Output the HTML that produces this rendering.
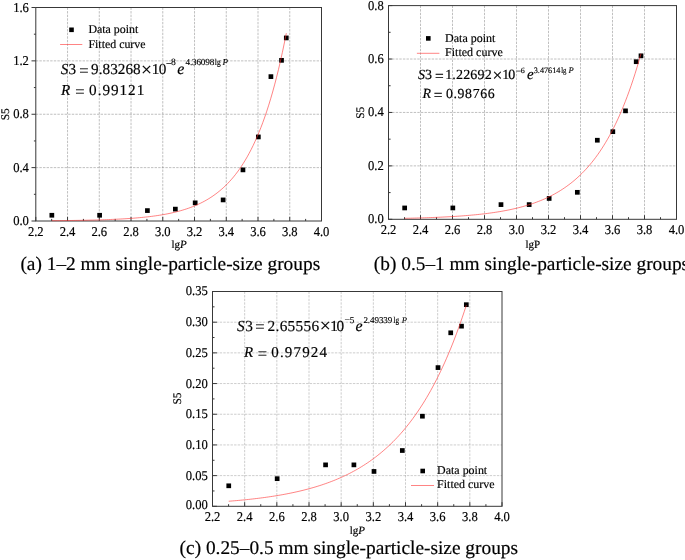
<!DOCTYPE html>
<html><head><meta charset="utf-8"><title>Figure</title>
<style>html,body{margin:0;padding:0;background:#fff;overflow:hidden}svg{display:block;will-change:transform;transform:translateZ(0)}text{text-rendering:geometricPrecision;stroke:#000;stroke-width:0.18px}</style></head>
<body><svg width="685" height="560" viewBox="0 0 685 560" font-family='"Liberation Serif", "Times New Roman", serif' fill="#000"><path d="M67.54 7.50V221.00M99.29 7.50V221.00M131.03 7.50V221.00M162.78 7.50V221.00M194.52 7.50V221.00M226.27 7.50V221.00M258.01 7.50V221.00M289.76 7.50V221.00M35.80 167.62H321.50M35.80 114.25H321.50M35.80 60.87H321.50" stroke="#606060" stroke-width="0.4" stroke-dasharray="2.4,1.2" fill="none"/>
<rect x="35.80" y="7.50" width="285.70" height="213.50" fill="none" stroke="#383838" stroke-width="1"/>
<path d="M35.80 221.00v-4.1M51.67 221.00v-2.1M67.54 221.00v-4.1M83.42 221.00v-2.1M99.29 221.00v-4.1M115.16 221.00v-2.1M131.03 221.00v-4.1M146.91 221.00v-2.1M162.78 221.00v-4.1M178.65 221.00v-2.1M194.52 221.00v-4.1M210.39 221.00v-2.1M226.27 221.00v-4.1M242.14 221.00v-2.1M258.01 221.00v-4.1M273.88 221.00v-2.1M289.76 221.00v-4.1M305.63 221.00v-2.1M321.50 221.00v-4.1M35.80 221.00h-4.3M35.80 194.31h-1.9M35.80 167.62h-4.3M35.80 140.94h-1.9M35.80 114.25h-4.3M35.80 87.56h-1.9M35.80 60.87h-4.3M35.80 34.19h-1.9M35.80 7.50h-4.3" stroke="#383838" stroke-width="1" fill="none"/>
<text transform="translate(35.80,235.80) scale(1,1.07)" font-size="12.6" text-anchor="middle">2.2</text>
<text transform="translate(67.54,235.80) scale(1,1.07)" font-size="12.6" text-anchor="middle">2.4</text>
<text transform="translate(99.29,235.80) scale(1,1.07)" font-size="12.6" text-anchor="middle">2.6</text>
<text transform="translate(131.03,235.80) scale(1,1.07)" font-size="12.6" text-anchor="middle">2.8</text>
<text transform="translate(162.78,235.80) scale(1,1.07)" font-size="12.6" text-anchor="middle">3.0</text>
<text transform="translate(194.52,235.80) scale(1,1.07)" font-size="12.6" text-anchor="middle">3.2</text>
<text transform="translate(226.27,235.80) scale(1,1.07)" font-size="12.6" text-anchor="middle">3.4</text>
<text transform="translate(258.01,235.80) scale(1,1.07)" font-size="12.6" text-anchor="middle">3.6</text>
<text transform="translate(289.76,235.80) scale(1,1.07)" font-size="12.6" text-anchor="middle">3.8</text>
<text transform="translate(321.50,235.80) scale(1,1.07)" font-size="12.6" text-anchor="middle">4.0</text>
<text transform="translate(28.90,225.00) scale(1,1.07)" font-size="12.6" text-anchor="end">0.0</text>
<text transform="translate(28.90,171.62) scale(1,1.07)" font-size="12.6" text-anchor="end">0.4</text>
<text transform="translate(28.90,118.25) scale(1,1.07)" font-size="12.6" text-anchor="end">0.8</text>
<text transform="translate(28.90,64.87) scale(1,1.07)" font-size="12.6" text-anchor="end">1.2</text>
<text transform="translate(28.90,11.50) scale(1,1.07)" font-size="12.6" text-anchor="end">1.6</text>
<rect x="49.49" y="212.91" width="4.7" height="4.7" fill="#000"/>
<rect x="97.27" y="212.91" width="4.7" height="4.7" fill="#000"/>
<rect x="145.05" y="208.24" width="4.7" height="4.7" fill="#000"/>
<rect x="173.00" y="206.77" width="4.7" height="4.7" fill="#000"/>
<rect x="192.83" y="200.50" width="4.7" height="4.7" fill="#000"/>
<rect x="220.78" y="197.57" width="4.7" height="4.7" fill="#000"/>
<rect x="240.61" y="167.54" width="4.7" height="4.7" fill="#000"/>
<rect x="255.99" y="134.58" width="4.7" height="4.7" fill="#000"/>
<rect x="268.56" y="74.27" width="4.7" height="4.7" fill="#000"/>
<rect x="279.18" y="57.99" width="4.7" height="4.7" fill="#000"/>
<rect x="283.94" y="35.57" width="4.7" height="4.7" fill="#000"/>
<polyline points="51.83,220.70 53.78,220.68 55.74,220.67 57.69,220.65 59.65,220.63 61.60,220.61 63.55,220.59 65.51,220.56 67.46,220.54 69.42,220.51 71.37,220.49 73.32,220.46 75.28,220.43 77.23,220.40 79.19,220.37 81.14,220.33 83.09,220.29 85.05,220.25 87.00,220.21 88.95,220.17 90.91,220.12 92.86,220.08 94.82,220.03 96.77,219.97 98.72,219.91 100.68,219.86 102.63,219.79 104.59,219.73 106.54,219.65 108.49,219.58 110.45,219.50 112.40,219.42 114.35,219.33 116.31,219.24 118.26,219.14 120.22,219.04 122.17,218.93 124.12,218.82 126.08,218.70 128.03,218.57 129.99,218.44 131.94,218.30 133.89,218.15 135.85,217.99 137.80,217.82 139.76,217.65 141.71,217.46 143.66,217.27 145.62,217.06 147.57,216.85 149.52,216.62 151.48,216.38 153.43,216.12 155.39,215.85 157.34,215.57 159.29,215.27 161.25,214.95 163.20,214.62 165.16,214.27 167.11,213.90 169.06,213.50 171.02,213.09 172.97,212.65 174.92,212.19 176.88,211.71 178.83,211.20 180.79,210.66 182.74,210.09 184.69,209.48 186.65,208.85 188.60,208.18 190.56,207.47 192.51,206.73 194.46,205.94 196.42,205.11 198.37,204.23 200.33,203.31 202.28,202.33 204.23,201.30 206.19,200.21 208.14,199.07 210.09,197.86 212.05,196.58 214.00,195.23 215.96,193.81 217.91,192.31 219.86,190.73 221.82,189.06 223.77,187.30 225.73,185.44 227.68,183.48 229.63,181.41 231.59,179.23 233.54,176.93 235.49,174.50 237.45,171.93 239.40,169.22 241.36,166.37 243.31,163.36 245.26,160.18 247.22,156.82 249.17,153.28 251.13,149.55 253.08,145.61 255.03,141.45 256.99,137.06 258.94,132.43 260.90,127.55 262.85,122.40 264.80,116.96 266.76,111.22 268.71,105.17 270.66,98.78 272.62,92.04 274.57,84.92 276.53,77.42 278.48,69.50 280.43,61.14 282.39,52.33 284.34,43.03 286.30,33.21" stroke="#ff3030" stroke-width="0.6" fill="none"/>
<path d="M420.50 5.60V219.30M452.50 5.60V219.30M484.50 5.60V219.30M516.50 5.60V219.30M548.50 5.60V219.30M580.50 5.60V219.30M612.50 5.60V219.30M644.50 5.60V219.30M388.50 165.88H676.50M388.50 112.45H676.50M388.50 59.02H676.50" stroke="#606060" stroke-width="0.4" stroke-dasharray="2.4,1.2" fill="none"/>
<rect x="388.50" y="5.60" width="288.00" height="213.70" fill="none" stroke="#383838" stroke-width="1"/>
<path d="M388.50 219.30v-4.1M404.50 219.30v-2.1M420.50 219.30v-4.1M436.50 219.30v-2.1M452.50 219.30v-4.1M468.50 219.30v-2.1M484.50 219.30v-4.1M500.50 219.30v-2.1M516.50 219.30v-4.1M532.50 219.30v-2.1M548.50 219.30v-4.1M564.50 219.30v-2.1M580.50 219.30v-4.1M596.50 219.30v-2.1M612.50 219.30v-4.1M628.50 219.30v-2.1M644.50 219.30v-4.1M660.50 219.30v-2.1M676.50 219.30v-4.1M388.50 219.30h3.8M388.50 192.59h2.1M388.50 165.88h3.8M388.50 139.16h2.1M388.50 112.45h3.8M388.50 85.74h2.1M388.50 59.02h3.8M388.50 32.31h2.1M388.50 5.60h3.8" stroke="#383838" stroke-width="1" fill="none"/>
<text transform="translate(388.50,234.10) scale(1,1.07)" font-size="12.6" text-anchor="middle">2.2</text>
<text transform="translate(420.50,234.10) scale(1,1.07)" font-size="12.6" text-anchor="middle">2.4</text>
<text transform="translate(452.50,234.10) scale(1,1.07)" font-size="12.6" text-anchor="middle">2.6</text>
<text transform="translate(484.50,234.10) scale(1,1.07)" font-size="12.6" text-anchor="middle">2.8</text>
<text transform="translate(516.50,234.10) scale(1,1.07)" font-size="12.6" text-anchor="middle">3.0</text>
<text transform="translate(548.50,234.10) scale(1,1.07)" font-size="12.6" text-anchor="middle">3.2</text>
<text transform="translate(580.50,234.10) scale(1,1.07)" font-size="12.6" text-anchor="middle">3.4</text>
<text transform="translate(612.50,234.10) scale(1,1.07)" font-size="12.6" text-anchor="middle">3.6</text>
<text transform="translate(644.50,234.10) scale(1,1.07)" font-size="12.6" text-anchor="middle">3.8</text>
<text transform="translate(676.50,234.10) scale(1,1.07)" font-size="12.6" text-anchor="middle">4.0</text>
<text transform="translate(383.80,223.30) scale(1,1.07)" font-size="12.6" text-anchor="end">0.0</text>
<text transform="translate(383.80,169.88) scale(1,1.07)" font-size="12.6" text-anchor="end">0.2</text>
<text transform="translate(383.80,116.45) scale(1,1.07)" font-size="12.6" text-anchor="end">0.4</text>
<text transform="translate(383.80,63.02) scale(1,1.07)" font-size="12.6" text-anchor="end">0.6</text>
<text transform="translate(383.80,9.60) scale(1,1.07)" font-size="12.6" text-anchor="end">0.8</text>
<rect x="402.31" y="205.60" width="4.7" height="4.7" fill="#000"/>
<rect x="450.48" y="205.60" width="4.7" height="4.7" fill="#000"/>
<rect x="498.64" y="202.26" width="4.7" height="4.7" fill="#000"/>
<rect x="526.82" y="202.26" width="4.7" height="4.7" fill="#000"/>
<rect x="546.81" y="196.11" width="4.7" height="4.7" fill="#000"/>
<rect x="574.98" y="189.97" width="4.7" height="4.7" fill="#000"/>
<rect x="594.97" y="137.88" width="4.7" height="4.7" fill="#000"/>
<rect x="610.48" y="129.33" width="4.7" height="4.7" fill="#000"/>
<rect x="623.15" y="108.50" width="4.7" height="4.7" fill="#000"/>
<rect x="633.86" y="59.35" width="4.7" height="4.7" fill="#000"/>
<rect x="638.65" y="53.47" width="4.7" height="4.7" fill="#000"/>
<polyline points="404.66,218.32 406.63,218.28 408.60,218.24 410.57,218.19 412.54,218.14 414.51,218.09 416.48,218.04 418.45,217.98 420.42,217.93 422.39,217.87 424.36,217.80 426.33,217.74 428.30,217.67 430.26,217.60 432.23,217.52 434.20,217.45 436.17,217.37 438.14,217.28 440.11,217.19 442.08,217.10 444.05,217.00 446.02,216.90 447.99,216.80 449.96,216.69 451.93,216.58 453.90,216.46 455.87,216.33 457.84,216.20 459.81,216.07 461.78,215.93 463.75,215.78 465.72,215.62 467.69,215.46 469.66,215.30 471.63,215.12 473.60,214.94 475.57,214.75 477.54,214.55 479.50,214.34 481.47,214.12 483.44,213.90 485.41,213.66 487.38,213.41 489.35,213.16 491.32,212.89 493.29,212.61 495.26,212.32 497.23,212.01 499.20,211.69 501.17,211.36 503.14,211.01 505.11,210.65 507.08,210.27 509.05,209.88 511.02,209.46 512.99,209.03 514.96,208.59 516.93,208.12 518.90,207.63 520.87,207.12 522.84,206.58 524.81,206.03 526.78,205.45 528.74,204.84 530.71,204.21 532.68,203.55 534.65,202.86 536.62,202.14 538.59,201.39 540.56,200.61 542.53,199.79 544.50,198.94 546.47,198.05 548.44,197.12 550.41,196.15 552.38,195.14 554.35,194.08 556.32,192.98 558.29,191.83 560.26,190.63 562.23,189.38 564.20,188.07 566.17,186.70 568.14,185.28 570.11,183.79 572.08,182.24 574.05,180.62 576.02,178.93 577.98,177.16 579.95,175.32 581.92,173.40 583.89,171.39 585.86,169.30 587.83,167.11 589.80,164.83 591.77,162.45 593.74,159.96 595.71,157.37 597.68,154.66 599.65,151.83 601.62,148.88 603.59,145.80 605.56,142.59 607.53,139.24 609.50,135.74 611.47,132.08 613.44,128.27 615.41,124.29 617.38,120.14 619.35,115.80 621.32,111.28 623.29,106.55 625.26,101.62 627.22,96.48 629.19,91.11 631.16,85.50 633.13,79.66 635.10,73.55 637.07,67.18 639.04,60.53 641.01,53.59" stroke="#ff3030" stroke-width="0.6" fill="none"/>
<path d="M244.67 291.50V506.30M276.83 291.50V506.30M309.00 291.50V506.30M341.17 291.50V506.30M373.33 291.50V506.30M405.50 291.50V506.30M437.67 291.50V506.30M469.83 291.50V506.30M212.50 475.61H502.00M212.50 444.93H502.00M212.50 414.24H502.00M212.50 383.56H502.00M212.50 352.87H502.00M212.50 322.19H502.00" stroke="#909090" stroke-width="0.45" stroke-dasharray="2.4,1.2" fill="none"/>
<rect x="212.50" y="291.50" width="289.50" height="214.80" fill="none" stroke="#383838" stroke-width="1"/>
<path d="M212.50 506.30v-4.1M228.58 506.30v-2.1M244.67 506.30v-4.1M260.75 506.30v-2.1M276.83 506.30v-4.1M292.92 506.30v-2.1M309.00 506.30v-4.1M325.08 506.30v-2.1M341.17 506.30v-4.1M357.25 506.30v-2.1M373.33 506.30v-4.1M389.42 506.30v-2.1M405.50 506.30v-4.1M421.58 506.30v-2.1M437.67 506.30v-4.1M453.75 506.30v-2.1M469.83 506.30v-4.1M485.92 506.30v-2.1M502.00 506.30v-4.1M212.50 506.30h4.4M212.50 490.96h2.0M212.50 475.61h4.4M212.50 460.27h2.0M212.50 444.93h4.4M212.50 429.59h2.0M212.50 414.24h4.4M212.50 398.90h2.0M212.50 383.56h4.4M212.50 368.21h2.0M212.50 352.87h4.4M212.50 337.53h2.0M212.50 322.19h4.4M212.50 306.84h2.0M212.50 291.50h4.4" stroke="#383838" stroke-width="1" fill="none"/>
<text transform="translate(212.50,521.10) scale(1,1.07)" font-size="12.6" text-anchor="middle">2.2</text>
<text transform="translate(244.67,521.10) scale(1,1.07)" font-size="12.6" text-anchor="middle">2.4</text>
<text transform="translate(276.83,521.10) scale(1,1.07)" font-size="12.6" text-anchor="middle">2.6</text>
<text transform="translate(309.00,521.10) scale(1,1.07)" font-size="12.6" text-anchor="middle">2.8</text>
<text transform="translate(341.17,521.10) scale(1,1.07)" font-size="12.6" text-anchor="middle">3.0</text>
<text transform="translate(373.33,521.10) scale(1,1.07)" font-size="12.6" text-anchor="middle">3.2</text>
<text transform="translate(405.50,521.10) scale(1,1.07)" font-size="12.6" text-anchor="middle">3.4</text>
<text transform="translate(437.67,521.10) scale(1,1.07)" font-size="12.6" text-anchor="middle">3.6</text>
<text transform="translate(469.83,521.10) scale(1,1.07)" font-size="12.6" text-anchor="middle">3.8</text>
<text transform="translate(502.00,521.10) scale(1,1.07)" font-size="12.6" text-anchor="middle">4.0</text>
<text transform="translate(207.80,509.30) scale(1,1.07)" font-size="12.6" text-anchor="end">0.00</text>
<text transform="translate(207.80,479.61) scale(1,1.07)" font-size="12.6" text-anchor="end">0.05</text>
<text transform="translate(207.80,448.93) scale(1,1.07)" font-size="12.6" text-anchor="end">0.10</text>
<text transform="translate(207.80,418.24) scale(1,1.07)" font-size="12.6" text-anchor="end">0.15</text>
<text transform="translate(207.80,387.56) scale(1,1.07)" font-size="12.6" text-anchor="end">0.20</text>
<text transform="translate(207.80,356.87) scale(1,1.07)" font-size="12.6" text-anchor="end">0.25</text>
<text transform="translate(207.80,326.19) scale(1,1.07)" font-size="12.6" text-anchor="end">0.30</text>
<text transform="translate(207.80,294.50) scale(1,1.07)" font-size="12.6" text-anchor="end">0.35</text>
<rect x="226.40" y="483.45" width="4.7" height="4.7" fill="#000"/>
<rect x="274.81" y="476.33" width="4.7" height="4.7" fill="#000"/>
<rect x="323.23" y="462.52" width="4.7" height="4.7" fill="#000"/>
<rect x="351.55" y="462.52" width="4.7" height="4.7" fill="#000"/>
<rect x="371.65" y="469.09" width="4.7" height="4.7" fill="#000"/>
<rect x="399.97" y="448.16" width="4.7" height="4.7" fill="#000"/>
<rect x="420.06" y="413.86" width="4.7" height="4.7" fill="#000"/>
<rect x="435.65" y="365.25" width="4.7" height="4.7" fill="#000"/>
<rect x="448.38" y="330.45" width="4.7" height="4.7" fill="#000"/>
<rect x="459.15" y="323.82" width="4.7" height="4.7" fill="#000"/>
<rect x="463.97" y="302.34" width="4.7" height="4.7" fill="#000"/>
<polyline points="228.74,501.24 230.72,501.09 232.70,500.92 234.68,500.76 236.66,500.58 238.64,500.41 240.62,500.22 242.60,500.03 244.58,499.84 246.56,499.64 248.54,499.43 250.52,499.21 252.50,498.99 254.48,498.76 256.46,498.53 258.44,498.29 260.42,498.04 262.40,497.78 264.38,497.52 266.36,497.24 268.34,496.96 270.32,496.67 272.30,496.37 274.28,496.06 276.26,495.74 278.24,495.41 280.22,495.07 282.20,494.72 284.18,494.36 286.16,493.99 288.14,493.60 290.12,493.21 292.10,492.80 294.08,492.38 296.06,491.94 298.04,491.50 300.02,491.04 302.00,490.56 303.98,490.07 305.96,489.56 307.94,489.04 309.92,488.50 311.90,487.95 313.88,487.38 315.86,486.79 317.84,486.18 319.82,485.55 321.80,484.91 323.78,484.24 325.76,483.55 327.74,482.84 329.72,482.11 331.70,481.36 333.68,480.58 335.66,479.78 337.64,478.95 339.62,478.10 341.60,477.22 343.58,476.31 345.56,475.38 347.54,474.41 349.52,473.42 351.50,472.40 353.48,471.34 355.46,470.25 357.43,469.13 359.41,467.97 361.39,466.77 363.37,465.54 365.35,464.27 367.33,462.96 369.31,461.61 371.29,460.21 373.27,458.78 375.25,457.30 377.23,455.77 379.21,454.19 381.19,452.57 383.17,450.90 385.15,449.17 387.13,447.39 389.11,445.55 391.09,443.66 393.07,441.71 395.05,439.69 397.03,437.62 399.01,435.48 400.99,433.27 402.97,430.99 404.95,428.64 406.93,426.22 408.91,423.73 410.89,421.15 412.87,418.50 414.85,415.76 416.83,412.94 418.81,410.03 420.79,407.03 422.77,403.94 424.75,400.75 426.73,397.46 428.71,394.06 430.69,390.57 432.67,386.96 434.65,383.24 436.63,379.40 438.61,375.45 440.59,371.37 442.57,367.16 444.55,362.83 446.53,358.35 448.51,353.74 450.49,348.99 452.47,344.08 454.45,339.03 456.43,333.81 458.41,328.44 460.39,322.89 462.37,317.18 464.35,311.28 466.33,305.20" stroke="#ff3030" stroke-width="0.6" fill="none"/>
<rect x="69.20" y="27.50" width="4.6" height="4.6" fill="#000"/>
<text x="88.42" y="33.40" font-size="11.9">Data point</text>
<path d="M60.1 44.5H82.3" stroke="#ff3030" stroke-width="0.6"/>
<text x="88.42" y="47.80" font-size="11.9">Fitted curve</text>
<text x="60.77" y="73.70" font-size="15.2" font-style="italic">S</text>
<text x="68.45" y="73.70" font-size="15.2">3</text>
<text x="79.25" y="75.50" font-size="16.5">=</text>
<text x="91.10" y="73.70" font-size="15.2" letter-spacing="0.025">9.83268</text>
<text x="140.97" y="75.50" font-size="19.5">×</text>
<text x="151.72" y="73.70" font-size="15.2" letter-spacing="-0.650">10</text>
<text x="166.10" y="66.80" font-size="10" style="stroke-width:0.14px">−</text>
<text x="171.12" y="65.30" font-size="9.6" style="stroke-width:0.14px">8</text>
<text x="177.20" y="73.70" font-size="16" font-style="italic">e</text>
<text x="185.47" y="65.30" font-size="9.2" letter-spacing="-0.179" style="stroke-width:0.14px">4.36098</text>
<text transform="translate(214.80,65.30) scale(0.830,1)" font-size="9.0">lg</text>
<text x="222.50" y="65.30" font-size="9" font-style="italic" style="stroke-width:0.14px">P</text>
<text x="61.12" y="94.90" font-size="15.2" font-style="italic">R</text>
<text x="75.15" y="97.00" font-size="16.5">=</text>
<text x="89.08" y="94.90" font-size="15.2" letter-spacing="0.971">0.99121</text>
<text transform="translate(8.6,114.4) rotate(-90) scale(1,1.03)" font-size="11.3" text-anchor="middle">S5</text>
<text x="171.5" y="248" font-size="11">lg<tspan font-style="italic">P</tspan></text>
<text x="20.43" y="270.10" font-size="19.35" style="stroke-width:0.18px">(a) 1–2 mm single-particle-size groups</text>
<rect x="426.00" y="36.10" width="4.6" height="4.6" fill="#000"/>
<text x="445.12" y="41.90" font-size="12">Data point</text>
<path d="M416.9 53.3H439.4" stroke="#ff3030" stroke-width="0.6"/>
<text x="445.12" y="55.60" font-size="12">Fitted curve</text>
<text x="417.98" y="78.70" font-size="14.0" font-style="italic">S</text>
<text x="424.88" y="78.70" font-size="14.0">3</text>
<text x="435.05" y="80.50" font-size="15.5">=</text>
<text x="445.15" y="78.70" font-size="14.0" letter-spacing="0.167">1.22692</text>
<text x="492.43" y="81.30" font-size="17.5">×</text>
<text x="502.25" y="78.70" font-size="14.0" letter-spacing="-0.950">10</text>
<text x="516.00" y="73.80" font-size="9.2" style="stroke-width:0.14px">−</text>
<text x="520.73" y="73.00" font-size="8.0" style="stroke-width:0.14px">6</text>
<text x="526.90" y="78.70" font-size="15" font-style="italic">e</text>
<text x="533.73" y="73.00" font-size="8.2" letter-spacing="0.012" style="stroke-width:0.14px">3.47614</text>
<text transform="translate(561.20,73.00) scale(0.816,1)" font-size="8.2">lg</text>
<text x="568.60" y="73.00" font-size="8.5" font-style="italic" style="stroke-width:0.14px">P</text>
<text x="422.43" y="97.80" font-size="14.0" font-style="italic">R</text>
<text x="433.85" y="99.90" font-size="15.5">=</text>
<text x="446.00" y="97.80" font-size="13.8" letter-spacing="0.621">0.98766</text>
<text transform="translate(363.6,112.7) rotate(-90) scale(1,1.03)" font-size="11.3" text-anchor="middle">S5</text>
<text x="525.5" y="248" font-size="11">lgP</text>
<text x="373.82" y="270.30" font-size="19.35" style="stroke-width:0.18px">(b) 0.5–1 mm single-particle-size groups</text>
<rect x="420.40" y="468.70" width="4.6" height="4.6" fill="#000"/>
<text x="437.12" y="474.30" font-size="11.95">Data point</text>
<path d="M411 485.5H434" stroke="#ff3030" stroke-width="0.6"/>
<text x="437.12" y="488.30" font-size="11.95">Fitted curve</text>
<text x="236.97" y="330.60" font-size="15.3" font-style="italic">S</text>
<text x="245.15" y="330.60" font-size="15.3">3</text>
<text x="255.25" y="332.40" font-size="16.5">=</text>
<text x="267.57" y="330.60" font-size="15.3" letter-spacing="0.312">2.65556</text>
<text x="319.68" y="332.40" font-size="19.5">×</text>
<text x="330.23" y="330.60" font-size="15.3" letter-spacing="-1.375">10</text>
<text x="344.60" y="323.20" font-size="9.8" style="stroke-width:0.14px">−</text>
<text x="349.80" y="322.60" font-size="9.2" style="stroke-width:0.14px">5</text>
<text x="355.40" y="330.60" font-size="16" font-style="italic">e</text>
<text x="363.43" y="322.60" font-size="9.0" letter-spacing="-0.067" style="stroke-width:0.14px">2.49339</text>
<text transform="translate(393.50,322.60) scale(0.800,1)" font-size="9.0">lg</text>
<text x="401.80" y="322.60" font-size="8.6" font-style="italic" style="stroke-width:0.14px">P</text>
<text x="244.12" y="356.70" font-size="15.0" font-style="italic">R</text>
<text x="257.85" y="358.80" font-size="16.5">=</text>
<text x="271.27" y="356.70" font-size="15.0" letter-spacing="1.154">0.97924</text>
<text transform="translate(181.0,398.6) rotate(-90) scale(1,1.03)" font-size="11.3" text-anchor="middle">S5</text>
<text x="349.8" y="533.7" font-size="11">lg<tspan font-style="italic">P</tspan></text>
<text x="179.62" y="554.00" font-size="19.35" style="stroke-width:0.18px">(c) 0.25–0.5 mm single-particle-size groups</text></svg></body></html>
